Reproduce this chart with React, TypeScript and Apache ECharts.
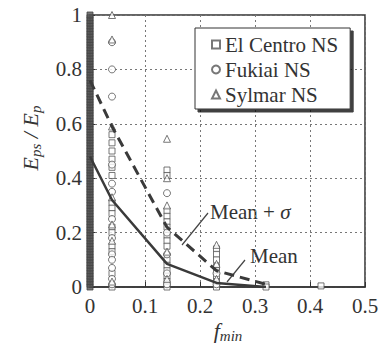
import React, { useEffect, useRef } from "react";
import * as echarts from "echarts";

const SERIF = "Liberation Serif, Times New Roman, serif";

// f_min positions
const meanX = [0, 0.04, 0.14, 0.23, 0.32];
const meanY = [0.48, 0.32, 0.085, 0.015, 0.0];
const meanSigmaY = [0.76, 0.59, 0.22, 0.06, 0.01];

// column at f_min = 0 is so dense in the picture that it reads as a solid bar
const zeroColumnY = [
  0.0, 0.01, 0.02, 0.03, 0.04, 0.05, 0.06, 0.07, 0.08, 0.09, 0.1, 0.11, 0.12, 0.13, 0.14, 0.15, 0.16, 0.17, 0.18, 0.19,
  0.2, 0.21, 0.22, 0.23, 0.24, 0.25, 0.26, 0.27, 0.28, 0.29, 0.3, 0.31, 0.32, 0.33, 0.34, 0.35, 0.36, 0.37, 0.38, 0.39,
  0.4, 0.41, 0.42, 0.43, 0.44, 0.45, 0.46, 0.47, 0.48, 0.49, 0.5, 0.51, 0.52, 0.53, 0.54, 0.55, 0.56, 0.57, 0.58, 0.59,
  0.6, 0.61, 0.62, 0.63, 0.64, 0.65, 0.66, 0.67, 0.68, 0.69, 0.7, 0.71, 0.72, 0.73, 0.74, 0.75, 0.76, 0.77, 0.78, 0.79,
  0.8, 0.81, 0.82, 0.83, 0.84, 0.85, 0.86, 0.87, 0.88, 0.89, 0.9, 0.91, 0.92, 0.93, 0.94, 0.95, 0.96, 0.97, 0.98, 0.99, 1.0,
];

const elCentroPts: [number, number][] = [
  [0.04, 0.56], [0.04, 0.53], [0.04, 0.5], [0.04, 0.47], [0.04, 0.44], [0.04, 0.41], [0.04, 0.31], [0.04, 0.29],
  [0.04, 0.27], [0.04, 0.22], [0.04, 0.2], [0.04, 0.15], [0.04, 0.13], [0.04, 0.05], [0.04, 0.0],
  [0.14, 0.43], [0.14, 0.41], [0.14, 0.28], [0.14, 0.26], [0.14, 0.24], [0.14, 0.22], [0.14, 0.19], [0.14, 0.17],
  [0.14, 0.15], [0.14, 0.1], [0.14, 0.08], [0.14, 0.06], [0.14, 0.04], [0.14, 0.02], [0.14, 0.0],
  [0.23, 0.14], [0.23, 0.12], [0.23, 0.1], [0.23, 0.075], [0.23, 0.06], [0.23, 0.04], [0.23, 0.02], [0.23, 0.0],
  [0.32, 0.008], [0.32, 0.0], [0.42, 0.004],
];

const fukiaiPts: [number, number][] = [
  [0.04, 0.9], [0.04, 0.8], [0.04, 0.7], [0.04, 0.45], [0.04, 0.38], [0.04, 0.35], [0.04, 0.25], [0.04, 0.18],
  [0.04, 0.12], [0.04, 0.1], [0.04, 0.07], [0.04, 0.03], [0.04, 0.01],
  [0.14, 0.345], [0.14, 0.2], [0.14, 0.12], [0.14, 0.05], [0.14, 0.01],
  [0.23, 0.05], [0.23, 0.01],
];

const sylmarPts: [number, number][] = [
  [0.04, 1.0], [0.04, 0.91], [0.04, 0.59], [0.04, 0.33], [0.04, 0.23], [0.04, 0.17], [0.04, 0.02],
  [0.14, 0.545], [0.14, 0.4], [0.14, 0.3], [0.14, 0.13], [0.14, 0.03],
  [0.23, 0.155], [0.23, 0.085], [0.23, 0.03],
];

const xTicks = { min: 0, max: 0.5, interval: 0.1 };
const yTicks = { min: 0, max: 1, interval: 0.2 };

const INK = "#3a3a3a";

export default function App() {
  const ref = useRef<HTMLDivElement>(null);
  useEffect(() => {
    if (!ref.current) return;
    const chart = echarts.init(ref.current, undefined, { renderer: "svg" });
    const scatterStyle = (symbol: string, size: number) => ({
      type: "scatter" as const,
      symbol,
      symbolSize: size,
      itemStyle: { color: "#ffffff", borderColor: "#555", borderWidth: 1 },
      z: 3,
    });
    const axisCommon = {
      axisLine: { show: true, lineStyle: { color: "#333", width: 1.5 } },
      axisTick: { show: true, inside: true, length: 5, lineStyle: { color: "#333" } },
      axisLabel: { color: "#333", fontFamily: SERIF, fontSize: 21, margin: 8 },
      splitLine: { show: true, lineStyle: { color: "#777", type: [2, 3], width: 1 } },
    };
    chart.setOption({
      animation: false,
      backgroundColor: "#ffffff",
      textStyle: { fontFamily: SERIF },
      grid: { left: 90, right: 21, top: 15, bottom: 60, show: true, borderColor: "#333", borderWidth: 1.5 },
      xAxis: { type: "value", min: xTicks.min, max: xTicks.max, interval: xTicks.interval, ...axisCommon },
      yAxis: { type: "value", min: yTicks.min, max: yTicks.max, interval: yTicks.interval, ...axisCommon },
      legend: {
        orient: "vertical",
        left: 195,
        top: 28,
        data: ["El Centro NS", "Fukiai NS", "Sylmar NS"],
        itemWidth: 8,
        itemHeight: 8,
        itemGap: 4,
        padding: [6, 12, 4, 16],
        backgroundColor: "#ffffff",
        borderColor: "#333",
        borderWidth: 1,
        shadowColor: "rgba(0,0,0,0.75)",
        shadowBlur: 1,
        shadowOffsetX: 3,
        shadowOffsetY: 3,
        textStyle: { fontFamily: SERIF, fontSize: 21, color: "#333", lineHeight: 21 },
        selectedMode: false,
      },
      series: [
        { name: "El Centro NS", data: elCentroPts, ...scatterStyle("rect", 6) },
        { name: "Fukiai NS", data: fukiaiPts, ...scatterStyle("circle", 7) },
        { name: "Sylmar NS", data: sylmarPts, ...scatterStyle("triangle", 7) },
        {
          name: "zero column",
          type: "scatter",
          data: zeroColumnY.map((y) => [0, y]),
          symbol: "rect",
          symbolSize: 6,
          itemStyle: { color: "#555", borderColor: "#444", borderWidth: 1 },
          z: 3,
        },
        {
          name: "Mean",
          type: "line",
          data: meanX.map((x, i) => [x, meanY[i]]),
          symbol: "none",
          lineStyle: { color: INK, width: 2.5 },
          z: 4,
        },
        {
          name: "Mean + sigma",
          type: "line",
          data: meanX.map((x, i) => [x, meanSigmaY[i]]),
          symbol: "none",
          lineStyle: { color: INK, width: 3, type: [10, 6] },
          z: 4,
        },
      ],
      graphic: [
        {
          type: "text",
          x: 30,
          y: 138,
          rotation: Math.PI / 2,
          style: {
            text: "{a|E}{b|ps}{a| / E}{b|p}",
            align: "center",
            verticalAlign: "middle",
            fill: "#333",
            rich: {
              a: { fontFamily: SERIF, fontStyle: "italic", fontSize: 22, fill: "#333" },
              b: { fontFamily: SERIF, fontStyle: "italic", fontSize: 15, padding: [12, 0, 0, 0], fill: "#333" },
            },
          },
        },
        {
          type: "text",
          x: 228,
          y: 330,
          style: {
            text: "{a|f}{b|min}",
            align: "center",
            verticalAlign: "middle",
            fill: "#333",
            rich: {
              a: { fontFamily: SERIF, fontStyle: "italic", fontSize: 22, fill: "#333" },
              b: { fontFamily: SERIF, fontStyle: "italic", fontSize: 15, padding: [12, 0, 0, 0], fill: "#333" },
            },
          },
        },
        {
          type: "text",
          x: 210,
          y: 212,
          style: {
            text: "{r|Mean + }{i|σ}",
            align: "left",
            verticalAlign: "middle",
            fill: "#333",
            rich: {
              r: { fontFamily: SERIF, fontSize: 21, fill: "#333" },
              i: { fontFamily: SERIF, fontStyle: "italic", fontSize: 21, fill: "#333" },
            },
          },
        },
        { type: "line", shape: { x1: 208, y1: 213, x2: 182, y2: 245 }, style: { stroke: "#444", lineWidth: 1.2 } },
        {
          type: "text",
          x: 250,
          y: 256,
          style: {
            text: "{r|Mean}",
            align: "left",
            verticalAlign: "middle",
            fill: "#333",
            rich: { r: { fontFamily: SERIF, fontSize: 21, fill: "#333" } },
          },
        },
        { type: "line", shape: { x1: 245, y1: 260, x2: 227, y2: 282 }, style: { stroke: "#444", lineWidth: 1.2 } },
      ],
    });
    return () => chart.dispose();
  }, []);
  return <div ref={ref} style={{ width: 386, height: 347, position: "absolute", left: 0, top: 0 }} />;
}
